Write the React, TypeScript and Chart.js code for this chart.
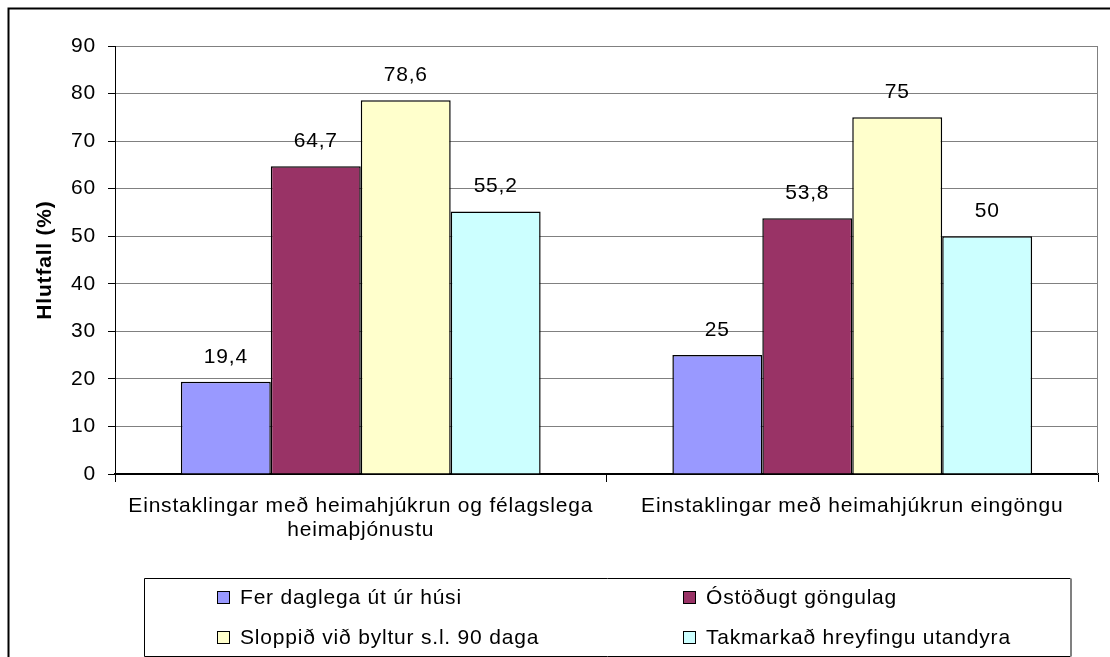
import React, { useEffect, useRef } from 'react';
import { Chart, registerables } from 'chart.js';

Chart.register(...registerables);

const categories: (string | string[])[] = [
  ['Einstaklingar með heimahjúkrun og félagslega', 'heimaþjónustu'],
  'Einstaklingar með heimahjúkrun eingöngu',
];
const seriesNames = [
  'Fer daglega út úr húsi',
  'Óstöðugt göngulag',
  'Sloppið við byltur s.l. 90 daga',
  'Takmarkað hreyfingu utandyra',
];
const ferDaglega = [19.4, 25];
const ostodugtGongulag = [64.7, 53.8];
const sloppidVidByltur = [78.6, 75];
const takmarkadHreyfingu = [55.2, 50];
const seriesValues = [ferDaglega, ostodugtGongulag, sloppidVidByltur, takmarkadHreyfingu];
const seriesColors = ['#9999FF', '#993366', '#FFFFCC', '#CCFFFF'];
const yMin = 0;
const yMax = 90;
const yStep = 10;
const yTitle = 'Hlutfall (%)';

const FONT = '"Liberation Sans", Arial, sans-serif';
const SPACING = '0.8px';

const fmt = (v: number) => String(v).replace('.', ',');

const spacingPlugin = {
  id: 'spacing',
  beforeUpdate(chart: any) {
    chart.ctx.letterSpacing = SPACING;
  },
  beforeLayout(chart: any) {
    chart.ctx.letterSpacing = SPACING;
  },
  beforeDraw(chart: any) {
    chart.ctx.letterSpacing = SPACING;
  },
};

const decorPlugin = {
  id: 'decor',
  afterDatasetsDraw(chart: any) {
    const ctx = chart.ctx;
    ctx.save();
    ctx.letterSpacing = SPACING;
    ctx.font = `21px ${FONT}`;
    ctx.fillStyle = '#000';
    ctx.textAlign = 'center';
    ctx.textBaseline = 'middle';
    chart.data.datasets.forEach((ds: any, i: number) => {
      const meta = chart.getDatasetMeta(i);
      meta.data.forEach((bar: any, j: number) => {
        ctx.fillText(fmt(ds.data[j]), bar.x, bar.y - 25);
      });
    });
    ctx.restore();
  },
  afterDraw(chart: any) {
    const ctx = chart.ctx;
    const ca = chart.chartArea;
    ctx.save();
    ctx.letterSpacing = SPACING;
    // right border of plot area
    ctx.strokeStyle = '#808080';
    ctx.lineWidth = 1;
    ctx.beginPath();
    ctx.moveTo(Math.round(ca.right) - 0.5, ca.top);
    ctx.lineTo(Math.round(ca.right) - 0.5, ca.bottom);
    ctx.stroke();

    // outer frame
    ctx.strokeStyle = '#000';
    ctx.lineWidth = 2;
    ctx.strokeRect(8.5, 8.5, 1300, 1000);

    // legend box
    const lx = 144.5, ly = 578.5, lr = 1070.5, lb = 656.5;
    ctx.lineWidth = 1;
    ctx.strokeStyle = '#000';
    ctx.beginPath();
    ctx.moveTo(lr, ly);
    ctx.lineTo(lx, ly);
    ctx.lineTo(lx, lb);
    ctx.lineTo(lr, lb);
    ctx.stroke();
    ctx.strokeStyle = '#808080';
    ctx.lineWidth = 2;
    ctx.beginPath();
    ctx.moveTo(lr + 0.5, ly);
    ctx.lineTo(lr + 0.5, lb);
    ctx.stroke();

    const colX = [217, 683];
    const rowY = [597, 637];
    ctx.font = `21px ${FONT}`;
    ctx.textAlign = 'left';
    ctx.textBaseline = 'middle';
    chart.data.datasets.forEach((ds: any, i: number) => {
      const x = colX[i % 2];
      const y = rowY[Math.floor(i / 2)];
      ctx.fillStyle = ds.backgroundColor;
      ctx.fillRect(x, y - 6, 13, 13);
      ctx.strokeStyle = '#000';
      ctx.lineWidth = 1;
      ctx.strokeRect(x + 0.5, y - 5.5, 12, 12);
      ctx.fillStyle = '#000';
      ctx.fillText(ds.label, x + 23, y + 1);
    });
    ctx.restore();
  },
};

export default function App() {
  const canvasRef = useRef<HTMLCanvasElement | null>(null);

  useEffect(() => {
    const canvas = canvasRef.current;
    if (!canvas) return;
    Chart.defaults.color = '#000';
    Chart.defaults.font.family = FONT;
    const chart = new Chart(canvas, {
      type: 'bar',
      data: {
        labels: categories as any,
        datasets: seriesNames.map((name, i) => ({
          label: name,
          data: seriesValues[i],
          backgroundColor: seriesColors[i],
          borderColor: '#000',
          borderWidth: 1.5,
          categoryPercentage: 0.732,
          barPercentage: 1,
        })),
      },
      options: {
        responsive: false,
        devicePixelRatio: 1,
        animation: false,
        layout: { padding: { left: 0, top: 46, right: 12, bottom: 113 } },
        plugins: {
          legend: { display: false },
          tooltip: { enabled: false },
        },
        scales: {
          x: {
            afterFit: (scale: any) => {
              scale.height = 70;
            },
            border: { display: true, color: '#000', width: 1.5 },
            grid: {
              display: true,
              drawOnChartArea: false,
              drawTicks: true,
              tickLength: 8,
              tickColor: '#000',
              offset: true,
            },
            ticks: {
              color: '#000',
              font: { size: 21, lineHeight: 1.15, family: FONT },
              padding: 12,
              maxRotation: 0,
              minRotation: 0,
              autoSkip: false,
            },
          },
          y: {
            min: yMin,
            max: yMax,
            afterFit: (scale: any) => {
              scale.width = 115;
            },
            border: { display: true, color: '#000', width: 1 },
            grid: {
              color: (c: any) => (c.tick && c.tick.value === 0 ? '#000' : '#808080'),
              lineWidth: 1,
              tickLength: 7,
              tickColor: '#000',
            },
            ticks: {
              stepSize: yStep,
              color: '#000',
              font: { size: 21, family: FONT },
              padding: 12,
            },
            title: {
              display: true,
              text: yTitle,
              color: '#000',
              font: { size: 21, weight: 'bold', family: FONT },
              padding: { top: 33, bottom: 0 },
            },
          },
        },
      },
      plugins: [spacingPlugin, decorPlugin],
    });
    return () => chart.destroy();
  }, []);

  return (
    <div style={{ position: 'absolute', left: 0, top: 0, width: 1110, height: 657, background: '#fff' }}>
      <canvas ref={canvasRef} width={1110} height={657} />
    </div>
  );
}
